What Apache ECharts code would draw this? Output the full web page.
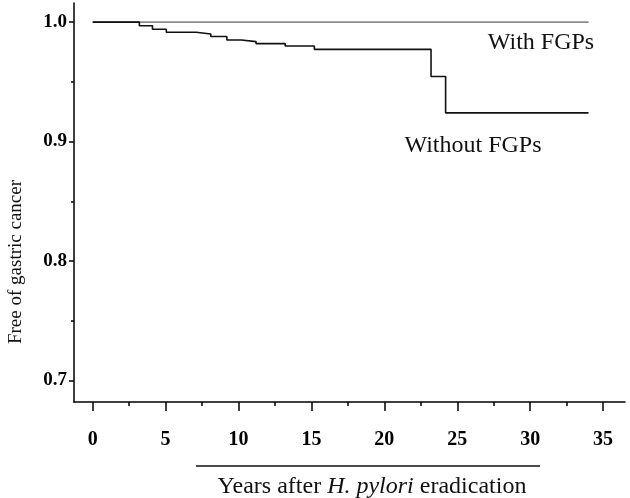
<!DOCTYPE html>
<html>
<head>
<meta charset="utf-8">
<script src="https://cdn.jsdelivr.net/npm/echarts@6/dist/echarts.min.js"></script>
<style>
  html, body { margin: 0; padding: 0; background: #fff; }
  #graphe { width: 630px; height: 498px; }
</style>
</head>
<body>
<div id="graphe"></div>
<script>
// Kaplan-Meier steps
const withTimes = [0, 34];
const withSurv = [1.0, 1.0];
const withoutTimes = [0, 3.2, 4.1, 5.05, 7.1, 8.1, 9.2, 10.2, 11.2, 13.2, 15.2, 23.2, 24.2, 34.0];
const withoutSurv = [1.0, 0.997, 0.994, 0.9915, 0.990, 0.988, 0.985, 0.9837, 0.982, 0.980, 0.9772, 0.9545, 0.924, 0.924];

const xTicks = [0, 5, 10, 15, 20, 25, 30, 35];
const xMinorTicks = [2.5, 7.5, 12.5, 17.5, 22.5, 27.5, 32.5];
const yTicks = [0.7, 0.8, 0.9, 1.0];
const yMinorTicks = [0.75, 0.85, 0.95];

const serif = '"Liberation Serif", "Times New Roman", serif';

const pairs = (xs, ys) => xs.map((x, i) => [x, ys[i]]);

const chart = echarts.init(document.getElementById('graphe'));

const box = { left: 74, right: 5, top: 3, bottom: 96, containLabel: false };
const baseX = {
    type: 'value',
    position: 'bottom',
    min: -1.28,
    max: 36.5,
    splitLine: { show: false }
};
const baseY = {
    type: 'value',
    position: 'left',
    min: 0.682,
    max: 1.016,
    splitLine: { show: false }
};

chart.setOption({
    animation: false,
    // second grid, same box, only carries the minor ticks
    grid: [Object.assign({}, box), Object.assign({}, box)],
    xAxis: [
        Object.assign({}, baseX, {
            gridIndex: 0,
            axisLine: { onZero: false, lineStyle: { color: '#000', width: 1.5 } },
            axisTick: { customValues: xTicks, length: 9, lineStyle: { color: '#000', width: 1.5 } },
            axisLabel: {
                customValues: xTicks,
                margin: 28,
                color: '#000',
                fontFamily: serif,
                fontWeight: 'bold',
                fontSize: 20
            }
        }),
        Object.assign({}, baseX, {
            gridIndex: 1,
            axisLine: { show: false, onZero: false },
            axisTick: { customValues: xMinorTicks, length: 4, lineStyle: { color: '#000', width: 1.5 } },
            axisLabel: { show: false }
        })
    ],
    yAxis: [
        Object.assign({}, baseY, {
            gridIndex: 0,
            axisLine: { show: true, onZero: false, lineStyle: { color: '#000', width: 1.5 } },
            axisTick: { show: true, customValues: yTicks, length: 5, lineStyle: { color: '#000', width: 1.5 } },
            axisLabel: {
                customValues: yTicks,
                margin: 7,
                color: '#000',
                fontFamily: serif,
                fontWeight: 'bold',
                fontSize: 19,
                formatter: v => v.toFixed(1)
            }
        }),
        Object.assign({}, baseY, {
            gridIndex: 1,
            axisLine: { show: false, onZero: false },
            axisTick: { show: true, customValues: yMinorTicks, length: 3, lineStyle: { color: '#000', width: 1.5 } },
            axisLabel: { show: false }
        })
    ],
    series: [
        {
            name: 'With FGPs',
            type: 'line',
            step: 'end',
            symbol: 'none',
            lineStyle: { color: '#8c8c8c', width: 1.6 },
            data: pairs(withTimes, withSurv)
        },
        {
            name: 'Without FGPs',
            type: 'line',
            step: 'end',
            symbol: 'none',
            lineStyle: { color: '#111', width: 1.6 },
            data: pairs(withoutTimes, withoutSurv)
        }
    ],
    graphic: [
        {
            type: 'text', x: 541, y: 43,
            style: { text: 'With FGPs', font: '24px ' + serif, fill: '#111', align: 'center', verticalAlign: 'middle' }
        },
        {
            type: 'text', x: 473, y: 146,
            style: { text: 'Without FGPs', font: '24px ' + serif, fill: '#111', align: 'center', verticalAlign: 'middle' }
        },
        {
            type: 'text', x: 16, y: 262, rotation: Math.PI / 2,
            style: { text: 'Free of gastric cancer', font: '19px ' + serif, fill: '#111', align: 'center', verticalAlign: 'middle' }
        },
        {
            type: 'line',
            shape: { x1: 196, y1: 466, x2: 540, y2: 466 },
            style: { stroke: '#111', lineWidth: 1.5 }
        },
        {
            type: 'text', x: 372, y: 487,
            style: {
                text: '{n|Years after }{i|H. pylori}{n| eradication}',
                align: 'center', verticalAlign: 'middle',
                rich: {
                    n: { font: '24px ' + serif, fill: '#111' },
                    i: { font: 'italic 24px ' + serif, fill: '#111' }
                }
            }
        }
    ]
});
</script>
</body>
</html>
